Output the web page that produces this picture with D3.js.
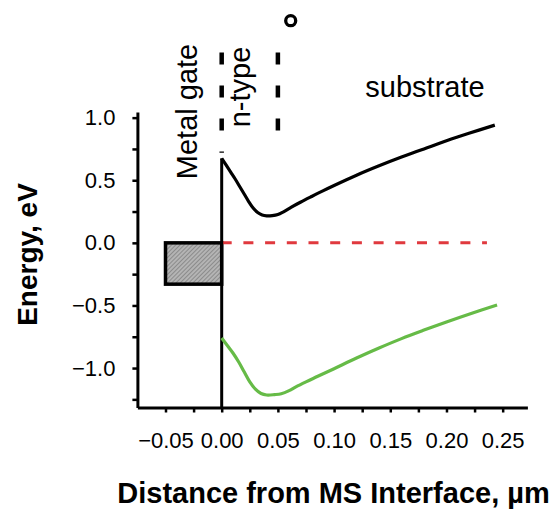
<!DOCTYPE html>
<html lang="en">
<head>
<meta charset="UTF-8">
<title>Band diagram</title>
<script src="https://d3js.org/d3.v7.min.js"></script>
<style>
  body { margin: 0; background: #fff; }
  text { font-family: "Liberation Sans", Arial, Helvetica, sans-serif; fill: #000; }
</style>
</head>
<body>
<div id="chart"></div>
<script>
// conduction band (black) - distance um, energy eV
var cbX = [0.000, 0.004, 0.008, 0.012, 0.016, 0.020, 0.024, 0.028, 0.032, 0.036, 0.040, 0.045, 0.050, 0.055, 0.062, 0.070, 0.080, 0.090, 0.100, 0.120, 0.140, 0.160, 0.180, 0.200, 0.220, 0.243]
var cbE = [0.675, 0.62, 0.565, 0.51, 0.45, 0.39, 0.33, 0.278, 0.242, 0.222, 0.215, 0.217, 0.226, 0.248, 0.285, 0.324, 0.37, 0.415, 0.458, 0.54, 0.615, 0.685, 0.75, 0.815, 0.875, 0.94]

// valence band (green)
var vbX = [0.000, 0.005, 0.010, 0.015, 0.020, 0.025, 0.030, 0.035, 0.040, 0.047, 0.053, 0.060, 0.066, 0.075, 0.085, 0.100, 0.120, 0.140, 0.160, 0.180, 0.200, 0.220, 0.245]
var vbE = [-0.76, -0.82, -0.88, -0.95, -1.03, -1.11, -1.168, -1.203, -1.215, -1.212, -1.205, -1.18, -1.15, -1.11, -1.068, -1.005, -0.92, -0.84, -0.765, -0.697, -0.632, -0.57, -0.497]

// fermi level (red dashed)
var fermiX = [0.0, 0.236]
var fermiE = 0.0

// metal gate box
var gateX = [-0.05, 0.0]
var gateE = [0.0, -0.33]

// region boundaries (dashed verticals)
var boundX = [0.0, 0.05]
var boundTop = [1.52, 1.52]
var boundBottom = [0.72, 0.86]

var xTicks = [-0.05, 0.00, 0.05, 0.10, 0.15, 0.20, 0.25]
var xMinor = [-0.025, 0.025, 0.075, 0.125, 0.175, 0.225]
var yTicks = [-1.0, -0.5, 0.0, 0.5, 1.0]
var yMinor = [-1.25, -0.75, -0.25, 0.25, 0.75]

var width = 553, height = 512

var svg = d3.select("#chart").append("svg")
    .attr("width", width)
    .attr("height", height)

var x = d3.scaleLinear().domain([-0.075, 0.272]).range([137.4, 527.4])
var y = d3.scaleLinear().domain([-1.315, 1.045]).range([407.5, 112])

// hatch pattern for gate box
var defs = svg.append("defs")
var pat = defs.append("pattern")
    .attr("id", "hatch")
    .attr("patternUnits", "userSpaceOnUse")
    .attr("width", 3)
    .attr("height", 3)
    .attr("patternTransform", "rotate(45)")
pat.append("rect").attr("width", 3).attr("height", 3).attr("fill", "#b4b4b4")
pat.append("line").attr("x1", 0).attr("y1", 0).attr("x2", 0).attr("y2", 3)
    .attr("stroke", "#707070").attr("stroke-width", 1.2)

// axes
var fmtX = d3.format(".2f")
var xAxis = d3.axisBottom(x)
    .tickValues(xTicks.concat(xMinor))
    .tickFormat(function (d) { return xTicks.indexOf(d) >= 0 ? fmtX(d) : "" })
    .tickSize(5).tickSizeOuter(0).tickPadding(20)

var fmtY = d3.format(".1f")
var yAxis = d3.axisLeft(y)
    .tickValues(yTicks.concat(yMinor))
    .tickFormat(function (d) { return yTicks.indexOf(d) >= 0 ? fmtY(d) : "" })
    .tickSize(5).tickSizeOuter(0).tickPadding(17)

var gx = svg.append("g")
    .attr("transform", "translate(0," + y.range()[0] + ")")
    .call(xAxis)
var gy = svg.append("g")
    .attr("transform", "translate(" + x.range()[0] + ",0)")
    .call(yAxis)

;[gx, gy].forEach(function (g) {
    g.select(".domain").attr("stroke-width", 3).attr("stroke", "#000")
    g.selectAll(".tick line").attr("stroke-width", 2.5).attr("stroke", "#000")
    g.selectAll(".tick text").style("font-size", "22px").attr("fill", "#000")
})

// gate box
svg.append("rect")
    .attr("x", x(gateX[0]))
    .attr("y", y(gateE[0]))
    .attr("width", x(gateX[1]) - x(gateX[0]))
    .attr("height", y(gateE[1]) - y(gateE[0]))
    .attr("fill", "url(#hatch)")
    .attr("stroke", "#000")
    .attr("stroke-width", 3.5)

// fermi level
svg.append("line")
    .attr("x1", x(fermiX[0])).attr("x2", x(fermiX[1]))
    .attr("y1", y(fermiE)).attr("y2", y(fermiE))
    .attr("stroke", "#e0393e")
    .attr("stroke-width", 3)
    .attr("stroke-dasharray", "10,11.7")

// interface line at x=0 down to axis
svg.append("line")
    .attr("x1", x(0)).attr("x2", x(0))
    .attr("y1", y(cbE[0])).attr("y2", y.range()[0])
    .attr("stroke", "#000").attr("stroke-width", 3)

// region boundaries
svg.selectAll(".bound")
    .data(boundX)
    .enter()
    .append("line")
    .attr("x1", function (d) { return x(d) })
    .attr("x2", function (d) { return x(d) })
    .attr("y1", function (d, i) { return y(boundTop[i]) })
    .attr("y2", function (d, i) { return y(boundBottom[i]) })
    .attr("stroke", "#000")
    .attr("stroke-width", 4.5)
    .attr("stroke-dasharray", "12,21")

var line = d3.line()
    .x(function (d) { return x(d[0]) })
    .y(function (d) { return y(d[1]) })
    .curve(d3.curveCatmullRom.alpha(0.5))

svg.append("path")
    .attr("d", line(d3.zip(vbX, vbE)))
    .attr("fill", "none")
    .attr("stroke", "#66bb47")
    .attr("stroke-width", 3.2)

svg.append("path")
    .attr("d", line(d3.zip(cbX, cbE)))
    .attr("fill", "none")
    .attr("stroke", "#000")
    .attr("stroke-width", 3.2)

// labels
svg.append("text")
    .attr("transform", "translate(197,111.5) rotate(-90)")
    .attr("text-anchor", "middle")
    .style("font-size", "29px")
    .text("Metal gate")

svg.append("text")
    .attr("transform", "translate(250,87) rotate(-90)")
    .attr("text-anchor", "middle")
    .style("font-size", "29px")
    .text("n-type")

svg.append("text")
    .attr("x", 425).attr("y", 96.5)
    .attr("text-anchor", "middle")
    .style("font-size", "29px")
    .text("substrate")

svg.append("circle")
    .attr("cx", 290.7).attr("cy", 20.7).attr("r", 5)
    .attr("fill", "none").attr("stroke", "#000").attr("stroke-width", 3.3)

svg.append("text")
    .attr("x", 333.5).attr("y", 503)
    .attr("text-anchor", "middle")
    .style("font-size", "29px").style("font-weight", "bold")
    .text("Distance from MS Interface, µm")

svg.append("text")
    .attr("transform", "translate(37,254.5) rotate(-90)")
    .attr("text-anchor", "middle")
    .style("font-size", "28px").style("font-weight", "bold")
    .text("Energy, eV")
</script>
</body>
</html>
